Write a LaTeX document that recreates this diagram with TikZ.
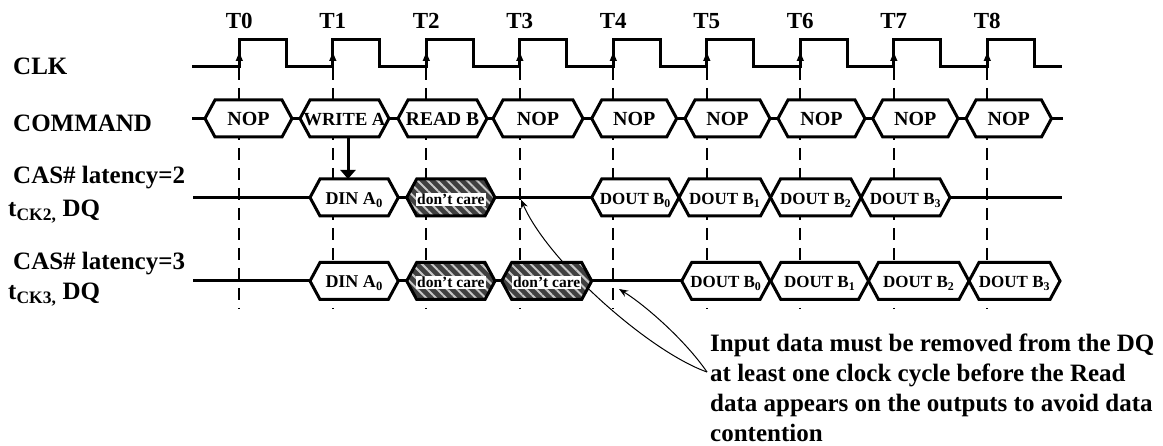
\documentclass[tikz,border=0pt]{standalone}
\usepackage{fontspec}
\setmainfont{Liberation Serif}
\usetikzlibrary{arrows.meta,patterns.meta}
\newcommand\fsz[1]{\fontsize{#1pt}{#1pt}\selectfont}
% style, x1, x2, yc, name, fontsize, text
\newcommand\tdhex[7]{%
  \draw[#1] (#2,#4) -- ({#2+10},{#4-18.5}) -- ({#3-10},{#4-18.5}) -- (#3,#4) -- ({#3-10},{#4+18.5}) -- ({#2+10},{#4+18.5}) -- cycle;
  \node[hextxt,font=\fsz{#6}\bfseries] (#5) at ({(#2+#3)/2},{#4+7}) {#7};}
% x1, x2, yc, name
\newcommand\tddc[4]{%
  \draw[hexdc] (#1,#3) -- ({#1+10},{#3-18.5}) -- ({#2-10},{#3-18.5}) -- (#2,#3) -- ({#2-10},{#3+18.5}) -- ({#1+10},{#3+18.5}) -- cycle;
  \node[hextxt,fill=white,inner sep=1pt,font=\fsz{15.5}\bfseries] (#4) at ({(#1+#2)/2},{#3+7}) {don't care};}
\begin{document}
\begin{tikzpicture}[x=1pt,y=-1pt,
  sig/.style={line width=3pt, line join=miter},
  hexw/.style={line width=3pt, line join=miter, draw=black, fill=white},
  hexdc/.style={line width=3pt, line join=miter, draw=black, preaction={fill=black!75},
    pattern={Lines[angle=-45,distance=7pt,line width=2pt]}, pattern color=black!22},
  hextxt/.style={anchor=base, inner sep=0pt},
  gridline/.style={line width=1.8pt, dash pattern=on 12pt off 8pt},
  lbl/.style={anchor=base west, inner sep=0pt, font=\fsz{25}\bfseries},
  tlbl/.style={anchor=base, inner sep=0pt, font=\fsz{23}\bfseries},
  note/.style={anchor=base west, inner sep=0pt, font=\fsz{25}\bfseries},
  callout/.style={line width=1pt, -{Stealth[length=9pt,width=7pt]}}]
\useasboundingbox (0,0) rectangle (1163,446);

% vertical dashed lines, clock edge markers and T labels
\foreach \i in {0,...,8} {
  \pgfmathsetmacro\ex{239.3+93.5*\i}
  \coordinate (e\i) at (\ex,67);
  \node[tlbl] (t\i) at (\ex,28.3) {T\i};
  \draw[gridline] (\ex,68) -- (\ex,309);
}

% row base lines
\draw[sig] (192,118.5) -- (1063,118.5);
\draw[sig] (193,197.5) -- (1062,197.5);
\draw[sig] (193,281) -- (1060,281);

% callout arrows (behind the hexagons)
\coordinate (src) at (707,372);
\coordinate (tip1) at (521,199.5);
\coordinate (tip2) at (619,289);
\draw[callout] (src) .. controls (650,352) and (548,262) .. (tip1);
\draw[callout] (src) .. controls (685,340) and (645,305) .. (tip2);

% COMMAND row
\tdhex{hexw}{205}{292}{118.5}{c0}{20}{NOP}
\tdhex{hexw}{300}{389}{118.5}{c1}{18.5}{WRITE A}
\tdhex{hexw}{398}{487}{118.5}{c2}{19.5}{READ B}
\tdhex{hexw}{493}{583}{118.5}{c3}{20}{NOP}
\tdhex{hexw}{591.7}{676.7}{118.5}{c4}{20}{NOP}
\tdhex{hexw}{685}{770}{118.5}{c5}{20}{NOP}
\tdhex{hexw}{778}{865}{118.5}{c6}{20}{NOP}
\tdhex{hexw}{872.7}{958}{118.5}{c7}{20}{NOP}
\tdhex{hexw}{966}{1051.5}{118.5}{c8}{20}{NOP}

% CAS latency 2 row
\tdhex{hexw}{310}{398.3}{197.5}{pdin}{18}{DIN A\textsubscript{0}}
\tddc{406.7}{495}{197.5}{pdc}
\tdhex{hexw}{591.7}{679}{197.5}{pb0}{17}{DOUT B\textsubscript{0}}
\tdhex{hexw}{679}{770.5}{197.5}{pb1}{17}{DOUT B\textsubscript{1}}
\tdhex{hexw}{770.5}{861}{197.5}{pb2}{17}{DOUT B\textsubscript{2}}
\tdhex{hexw}{861}{950}{197.5}{pb3}{17}{DOUT B\textsubscript{3}}

% CAS latency 3 row
\tdhex{hexw}{310}{398.3}{281}{qdin}{18}{DIN A\textsubscript{0}}
\tddc{406.7}{495}{281}{qdca}
\tddc{501.7}{591.7}{281}{qdcb}
\tdhex{hexw}{681.7}{770}{281}{qb0}{17}{DOUT B\textsubscript{0}}
\tdhex{hexw}{770.8}{868.5}{281}{qb1}{17}{DOUT B\textsubscript{1}}
\tdhex{hexw}{868.5}{969}{281}{qb2}{17}{DOUT B\textsubscript{2}}
\tdhex{hexw}{969}{1060}{281}{qb3}{17}{DOUT B\textsubscript{3}}

% clock
\draw[sig] (192,67) \foreach \i in {0,...,8} {
  -- ({239.3+93.5*\i},67) -- ({239.3+93.5*\i},39.3) -- ({286.3+93.5*\i},39.3) -- ({286.3+93.5*\i},67) } -- (1062,67);
\foreach \i in {0,...,8} {
  \fill ([xshift=-3.7pt,yshift=6pt]e\i) -- ([xshift=3.7pt,yshift=6pt]e\i) -- ([yshift=14.5pt]e\i) -- cycle;
}

% write-to-data arrow
\coordinate (wrbot) at (348,137);
\coordinate (dintop) at (348,179);
\draw[line width=3pt, -{Triangle[width=15pt,length=9pt]}] (wrbot) -- (dintop);

% left labels
\node[lbl] (lclk) at (13,75) {CLK};
\node[lbl] (lcmd) at (13,131.7) {COMMAND};
\node[lbl] (lcl2) at (13,183.3) {CAS\# latency=2};
\node[lbl] (ldq2) at (8,216.7) {t\textsubscript{CK2,} DQ};
\node[lbl] (lcl3) at (13,270) {CAS\# latency=3};
\node[lbl] (ldq3) at (8,300) {t\textsubscript{CK3,} DQ};

% note
\node[note] (n1) at (710,352) {Input data must be removed from the DQ};
\node[note] (n2) at (710,382) {at least one clock cycle before the Read};
\node[note] (n3) at (710,412) {data appears on the outputs to avoid data};
\node[note] (n4) at (710,442) {contention};
\end{tikzpicture}
\end{document}
